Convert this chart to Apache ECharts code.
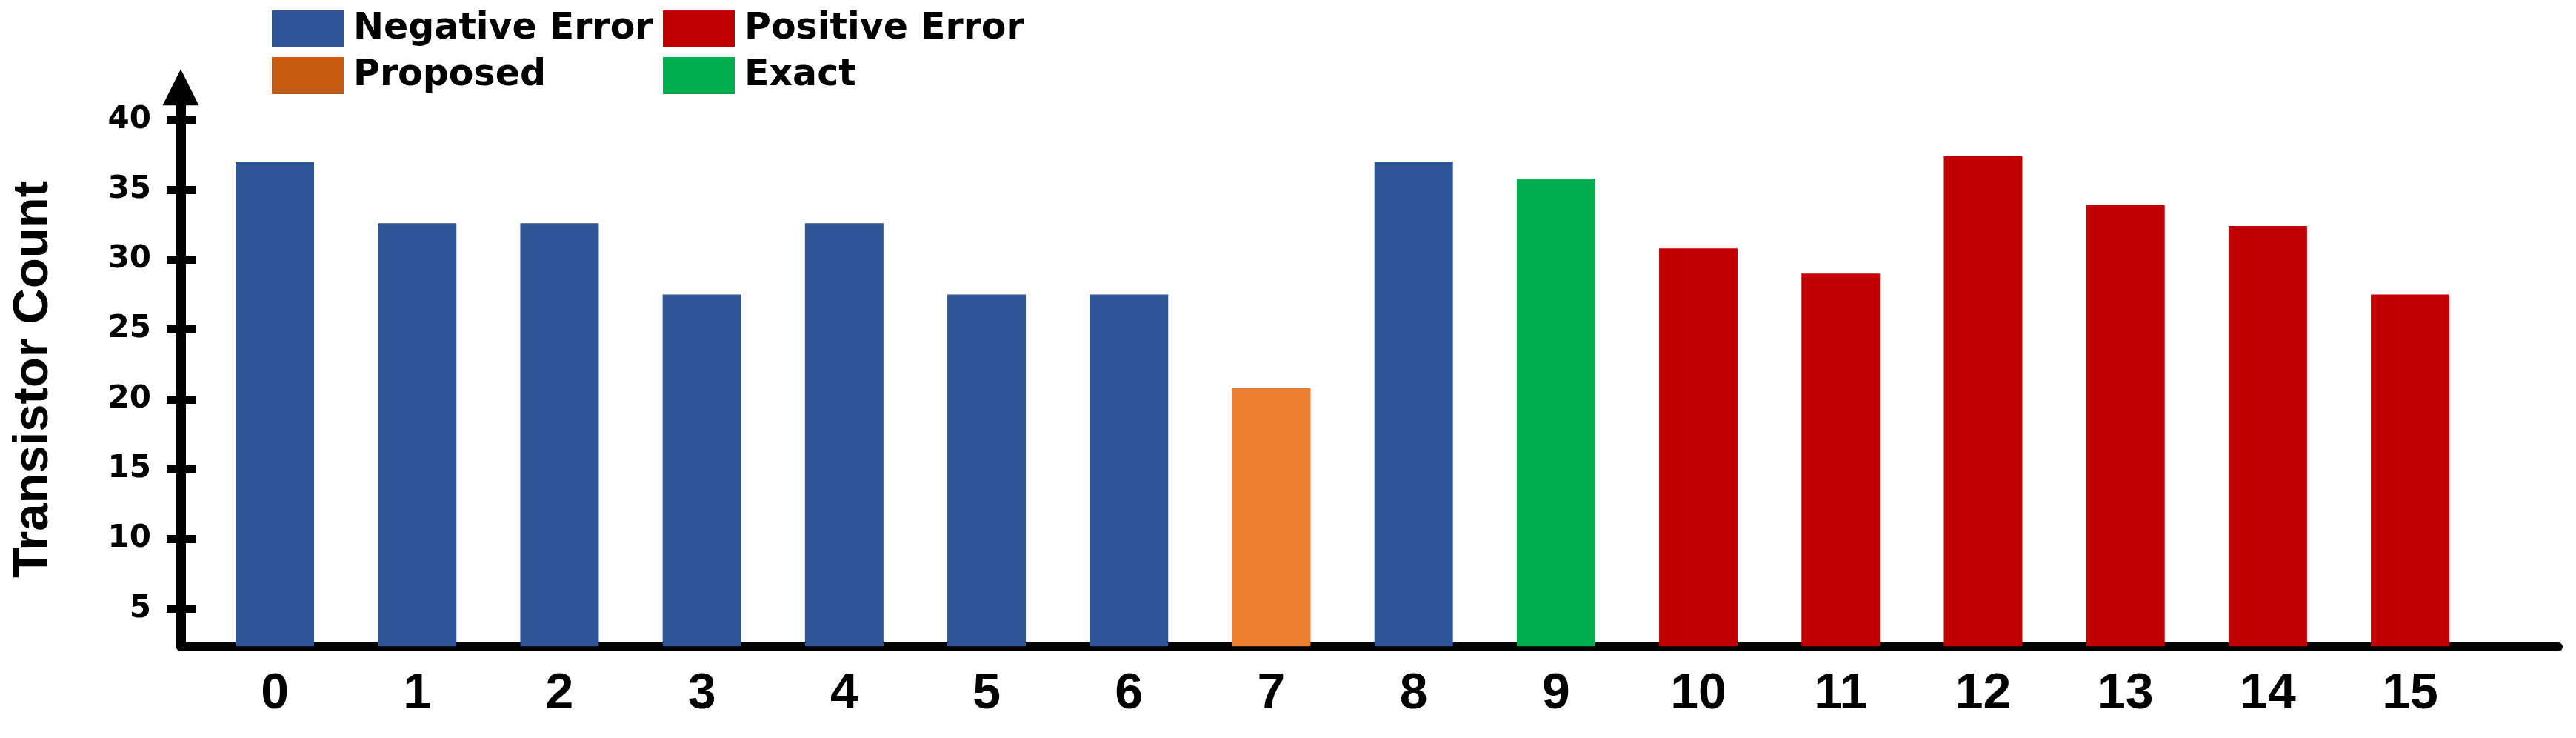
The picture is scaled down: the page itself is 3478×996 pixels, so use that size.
<!DOCTYPE html>
<html>
<head>
<meta charset="utf-8">
<script src="https://cdn.jsdelivr.net/npm/echarts@6/dist/echarts.min.js"></script>
<style>
html,body{margin:0;padding:0;background:#fff;}
#chart{width:3478px;height:996px;}
</style>
</head>
<body>
<div id="chart"></div>
<script>
// ---- data ----
const categories = ['0','1','2','3','4','5','6','7','8','9','10','11','12','13','14','15'];
const counts = [37, 32.6, 32.6, 27.5, 32.6, 27.5, 27.5, 20.8, 37, 35.8, 30.8, 29, 37.4, 33.9, 32.4, 27.5];
const groups = ['Negative Error','Negative Error','Negative Error','Negative Error','Negative Error','Negative Error','Negative Error',
                'Proposed','Negative Error','Exact',
                'Positive Error','Positive Error','Positive Error','Positive Error','Positive Error','Positive Error'];
const seriesNames = ['Negative Error','Positive Error','Proposed','Exact'];
const yTicks = [5, 10, 15, 20, 25, 30, 35, 40];
const yTitle = 'Transistor Count';

// ---- styles ----
const barColors = {'Negative Error':'#2F5597','Positive Error':'#C00000','Proposed':'#ED7D31','Exact':'#00B050'};
const legendColors = {'Negative Error':'#2F5597','Positive Error':'#C00000','Proposed':'#C55A11','Exact':'#00B050'};

const chart = echarts.init(document.getElementById('chart'), null, {renderer:'canvas'});

const series = seriesNames.map(name => ({
  name: name,
  type: 'bar',
  barWidth: 106,
  barGap: '-100%',
  xAxisIndex: 0,
  yAxisIndex: 0,
  itemStyle: {color: legendColors[name]},
  data: counts.map((v, i) => groups[i] === name ? {value: [i, v], itemStyle: {color: barColors[name]}} : null).filter(d => d !== null)
}));

const legendText = {fontFamily:'DejaVu Sans', fontWeight:'bold', fontSize:49, color:'#000', lineHeight:50, padding:[0,0,0,8]};
const legendCommon = {
  orient:'vertical', top:14, itemWidth:97, itemHeight:50, itemGap:13, icon:'rect',
  textStyle: legendText, selectedMode:false, padding:0
};

const option = {
  animation:false,
  backgroundColor:'#fff',
  legend:[
    Object.assign({}, legendCommon, {left:367, z:3, data:[{name:'Negative Error', itemStyle:{color:legendColors['Negative Error']}}, {name:'Proposed', itemStyle:{color:legendColors['Proposed']}}]}),
    Object.assign({}, legendCommon, {left:895, z:4, data:[{name:'Positive Error', itemStyle:{color:legendColors['Positive Error']}}, {name:'Exact', itemStyle:{color:legendColors['Exact']}}]})
  ],
  grid:{left:244, right:24, top:117.8, bottom:123.7, containLabel:false},
  xAxis:[{
    type:'value',
    min:-0.661, max:16.04,
    axisLine:{show:true, onZero:false, lineStyle:{color:'#000', width:12}},
    axisTick:{show:false},
    splitLine:{show:false},
    axisLabel:{
      show:true,
      customValues: categories.map((c, i) => i),
      formatter: v => categories[Math.round(v)],
      fontFamily:'Liberation Sans', fontWeight:'bold', fontSize:68, color:'#000', margin:31
    }
  }],
  yAxis:[{
    type:'value', position:'left',
    min:2.317, max:42.33,
    name: yTitle, nameLocation:'middle', nameGap:165, nameRotate:90,
    nameTextStyle:{fontFamily:'Liberation Sans', fontWeight:'bold', fontSize:67, color:'#000', padding:[0,34,0,0]},
    axisLine:{show:true, onZero:false, symbol:['none','triangle'], symbolSize:[49,49], lineStyle:{color:'#000', width:13}},
    axisTick:{show:true, inside:false, length:19, customValues:yTicks, lineStyle:{color:'#000', width:11}},
    axisLabel:{show:true, customValues:yTicks, fontFamily:'DejaVu Sans', fontWeight:'bold', fontSize:42, color:'#000', margin:40},
    splitLine:{show:false}
  },{
    type:'value', position:'left', offset:0,
    min:2.317, max:42.33,
    axisLine:{show:false, onZero:false},
    axisTick:{show:true, inside:true, length:20, customValues:yTicks, lineStyle:{color:'#000', width:11}},
    axisLabel:{show:false},
    splitLine:{show:false}
  }],
  series: series
};
chart.setOption(option);
</script>
</body>
</html>
